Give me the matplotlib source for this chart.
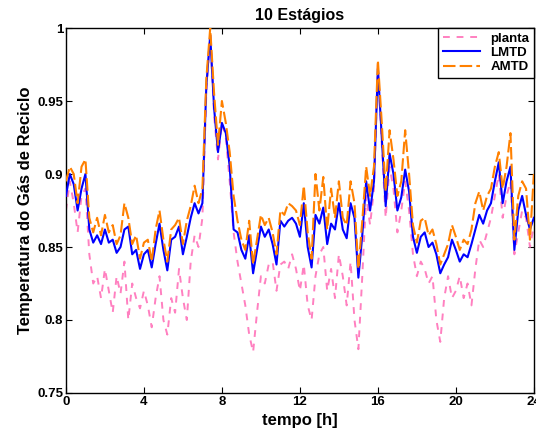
import numpy as np
import matplotlib
matplotlib.use("Agg")
import matplotlib.pyplot as plt

plt.rcParams['font.family'] = ['Liberation Sans', 'DejaVu Sans']
plt.rcParams['font.weight'] = 'bold'

# time grid in hours (0.2 h steps)
tempo = np.round(np.arange(0, 24.0001, 0.2), 2)

lmtd = [0.885, 0.900, 0.893, 0.875, 0.890, 0.900, 0.862, 0.853, 0.858, 0.852,
        0.862, 0.853, 0.855, 0.846, 0.850, 0.862, 0.864, 0.845, 0.848,
        0.835, 0.845, 0.848, 0.836, 0.852, 0.866, 0.848, 0.834, 0.855, 0.857,
        0.864, 0.845, 0.857, 0.870, 0.880, 0.873, 0.880, 0.960, 0.995, 0.945,
        0.915, 0.935, 0.928, 0.905, 0.862, 0.860, 0.848, 0.842, 0.858, 0.832,
        0.848, 0.864, 0.857, 0.862, 0.852, 0.838, 0.868, 0.864, 0.868,
        0.870, 0.866, 0.857, 0.880, 0.850, 0.836, 0.872, 0.866, 0.877, 0.852,
        0.866, 0.862, 0.880, 0.862, 0.856, 0.880, 0.870, 0.829, 0.858, 0.895,
        0.875, 0.895, 0.972, 0.925, 0.878, 0.914, 0.900, 0.875, 0.884, 0.903,
        0.888, 0.857, 0.846, 0.857, 0.860, 0.850, 0.853, 0.845, 0.832,
        0.838, 0.843, 0.855, 0.848, 0.840, 0.845, 0.843, 0.852, 0.862, 0.872,
        0.866, 0.875, 0.880, 0.895, 0.908, 0.880, 0.895, 0.905, 0.848, 0.875, 0.885,
        0.872, 0.862, 0.870]

amtd = [0.895, 0.905, 0.900, 0.880, 0.905, 0.910, 0.870, 0.860, 0.870, 0.858,
        0.872, 0.860, 0.865, 0.852, 0.858, 0.880, 0.870, 0.852, 0.858,
        0.842, 0.853, 0.855, 0.840, 0.862, 0.875, 0.855, 0.840, 0.862, 0.865,
        0.870, 0.852, 0.868, 0.878, 0.892, 0.880, 0.890, 0.965, 1.000, 0.955,
        0.920, 0.950, 0.935, 0.915, 0.885, 0.868, 0.855, 0.848, 0.868, 0.838,
        0.855, 0.872, 0.865, 0.870, 0.860, 0.845, 0.875, 0.872, 0.880,
        0.878, 0.875, 0.865, 0.892, 0.860, 0.842, 0.900, 0.875, 0.898, 0.862,
        0.890, 0.870, 0.895, 0.870, 0.865, 0.895, 0.880, 0.835, 0.868, 0.905,
        0.885, 0.905, 0.978, 0.935, 0.888, 0.930, 0.910, 0.885, 0.895, 0.930,
        0.900, 0.865, 0.853, 0.868, 0.870, 0.858, 0.862, 0.852, 0.838,
        0.845, 0.852, 0.865, 0.857, 0.848, 0.855, 0.852, 0.862, 0.880, 0.888,
        0.875, 0.885, 0.890, 0.905, 0.915, 0.890, 0.905, 0.928, 0.855, 0.885, 0.895,
        0.890, 0.855, 0.900]

planta = [0.875, 0.895, 0.880, 0.860, 0.885, 0.890, 0.845, 0.825, 0.830, 0.815,
          0.835, 0.820, 0.805, 0.830, 0.818, 0.840, 0.800, 0.825, 0.815,
          0.808, 0.820, 0.810, 0.795, 0.815, 0.830, 0.800, 0.790, 0.815, 0.805,
          0.835, 0.815, 0.800, 0.840, 0.858, 0.850, 0.870, 0.955, 0.995, 0.940,
          0.910, 0.935, 0.925, 0.895, 0.860, 0.840, 0.825, 0.810, 0.790, 0.778,
          0.805, 0.830, 0.825, 0.838, 0.840, 0.820, 0.838, 0.840, 0.835,
          0.845, 0.835, 0.820, 0.838, 0.810, 0.800, 0.830, 0.845, 0.850, 0.820,
          0.835, 0.815, 0.845, 0.830, 0.810, 0.840, 0.800, 0.780, 0.830, 0.885,
          0.865, 0.890, 0.975, 0.920, 0.870, 0.905, 0.890, 0.860, 0.875, 0.895,
          0.875, 0.845, 0.830, 0.840, 0.835, 0.825, 0.830, 0.800, 0.785,
          0.815, 0.830, 0.815, 0.820, 0.830, 0.815, 0.825, 0.810, 0.835, 0.855,
          0.850, 0.860, 0.870, 0.885, 0.900, 0.870, 0.885, 0.895, 0.845, 0.860, 0.875,
          0.870, 0.850, 0.865]

xticks = [0, 4, 8, 12, 16, 20, 24]
yticks = [0.75, 0.8, 0.85, 0.9, 0.95, 1.0]
yticklabels = ['0.75', '0.8', '0.85', '0.9', '0.95', '1']

fig = plt.figure(figsize=(5.36, 4.33), dpi=100)
ax = fig.add_axes([0.123, 0.0924, 0.873, 0.8429])

ax.plot(tempo, planta, color='#ff80c0', lw=1.4, dashes=(3.5, 3.5), label='planta', zorder=2)
ax.plot(tempo, lmtd, color='#0000ff', lw=1.5, label='LMTD', zorder=3)
ax.plot(tempo, amtd, color='#ff8000', lw=1.5, dashes=(6, 2), label='AMTD', zorder=4)

ax.set_xlim(0, 24)
ax.set_ylim(0.75, 1.0)
ax.set_xticks(xticks)
ax.set_xticklabels([str(v) for v in xticks], fontsize=9.5, fontweight='bold')
ax.set_yticks(yticks)
ax.set_yticklabels(yticklabels, fontsize=9.5, fontweight='bold')
ax.tick_params(direction='in', top=True, right=True, length=4, width=0.8, pad=2)
for s in ax.spines.values():
    s.set_linewidth(1.0)

ax.set_title('10 Estágios', fontsize=11.5, fontweight='bold', pad=6)
ax.set_xlabel('tempo [h]', fontsize=12, fontweight='bold', labelpad=4)
ax.set_ylabel('Temperatura do Gás de Reciclo', fontsize=12, fontweight='bold', labelpad=3)

leg = ax.legend(loc='upper right', prop={'weight': 'bold', 'size': 9.5},
                frameon=True, fancybox=False, edgecolor='black', framealpha=1,
                borderpad=0.35, labelspacing=0.15, handlelength=2.8,
                handletextpad=0.8, borderaxespad=0.0)
leg.get_frame().set_linewidth(1.0)

fig.savefig('out.png', dpi=100)
